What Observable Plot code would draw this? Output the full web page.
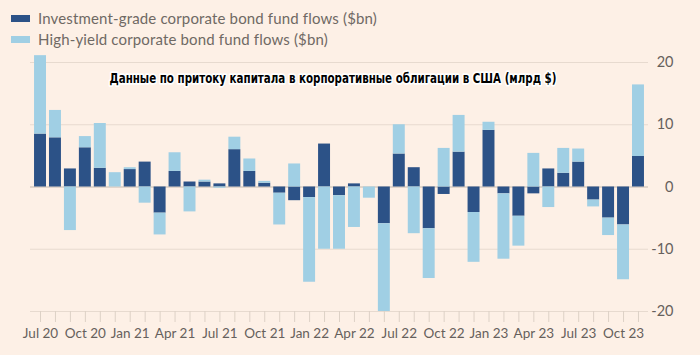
<!DOCTYPE html>
<html><head><meta charset="utf-8">
<script src="https://cdn.jsdelivr.net/npm/d3@7"></script>
<script src="https://cdn.jsdelivr.net/npm/@observablehq/plot@0.6"></script>
<style>
body{margin:0;background:#fdf0e6;font-family:Lato,sans-serif;width:700px;height:355px;overflow:hidden;}
#legend{height:48px;position:relative;}
.item{position:absolute;left:11px;display:flex;align-items:center;font-size:15px;color:#6f6964;line-height:18px;letter-spacing:0.15px;}
.sw{width:19px;height:7px;margin-right:8px;}
</style></head><body>
<div id="legend"></div><div id="chart"></div>
<script>
const months = ["Jul 20","Aug 20","Sep 20","Oct 20","Nov 20","Dec 20",
  "Jan 21","Feb 21","Mar 21","Apr 21","May 21","Jun 21","Jul 21","Aug 21","Sep 21","Oct 21","Nov 21","Dec 21",
  "Jan 22","Feb 22","Mar 22","Apr 22","May 22","Jun 22","Jul 22","Aug 22","Sep 22","Oct 22","Nov 22","Dec 22",
  "Jan 23","Feb 23","Mar 23","Apr 23","May 23","Jun 23","Jul 23","Aug 23","Sep 23","Oct 23","Nov 23"];
const investmentGrade = [8.5,7.9,2.9,6.3,3.0,0,2.8,4.0,-4.2,2.5,0.8,0.8,0.5,6.0,2.5,0.6,-1.0,-2.2,-1.7,6.9,-1.4,0.5,0,-5.9,5.3,3.1,-6.7,-1.2,5.6,-4.1,9.1,-1.1,-4.7,-1.1,2.9,2.2,4.0,-2.1,-5.0,-6.1,4.9];
const highYield = [12.6,4.4,-7.0,1.8,7.2,2.3,0.3,-2.6,-3.5,3.0,-4.0,0.3,-0.2,2.0,2.0,0.3,-5.1,3.7,-13.6,-10.0,-8.6,-6.5,-1.8,-14.1,4.7,-7.5,-8.0,6.2,5.9,-8.0,1.3,-10.5,-4.8,5.4,-3.3,4.0,2.1,-1.1,-2.8,-8.8,11.5];
const yTicks = [20,10,0,-10,-20];
const tickLabels = ["Jul 20","Oct 20","Jan 21","Apr 21","Jul 21","Oct 21","Jan 22","Apr 22","Jul 22","Oct 22","Jan 23","Apr 23","Jul 23","Oct 23"];
const seriesNames = ["Investment-grade corporate bond fund flows ($bn)","High-yield corporate bond fund flows ($bn)"];
const seriesColors = ["#2c5287","#a0cfe4"];
const title = "Данные по притоку капитала в корпоративные облигации в США (млрд $)";

const legend = document.getElementById("legend");
seriesNames.forEach((name,i)=>{
  const it = document.createElement("div");
  it.className="item"; it.style.top = (i===0 ? 9 : 30)+"px";
  it.innerHTML = `<span class="sw" style="background:${seriesColors[i]}"></span><span>${name.replace("$","&#36;")}</span>`;
  legend.appendChild(it);
});

const rows = months.flatMap((m,i)=>[
  {month:m, series:seriesNames[0], value:investmentGrade[i]},
  {month:m, series:seriesNames[1], value:highYield[i]}
]);
const shown = new Set(tickLabels);

const chart = Plot.plot({
  width:700, height:307,
  marginLeft:30, marginRight:52, marginTop:14, marginBottom:44,
  style:{background:"transparent", fontFamily:"Lato, sans-serif", fontSize:"13px", color:"#66605c", overflow:"visible"},
  x:{domain:months, paddingInner:0.2, paddingOuter:0.27, label:null},
  y:{domain:[-20,20], label:null},
  color:{domain:seriesNames, range:seriesColors},
  marks:[
    Plot.ruleY(yTicks, {stroke:"#e7dacf", strokeWidth:1}),
    Plot.ruleY([0], {stroke:"#cfc4ba", strokeWidth:1}),
    Plot.barY(rows, {x:"month", y:"value", fill:"series"}),
    Plot.axisX({tickSize:11, tickPadding:6, stroke:"#ddd1c6", color:"#66605c", fontSize:13.5,
      tickFormat: d => shown.has(d) ? d : ""}),
    Plot.axisY({ticks:[], label:null}),
    Plot.text(yTicks, {y:d=>d, text:d=>String(d).replace("\u2212","-"), frameAnchor:"right", dx:25, textAnchor:"end", fontSize:14.5, fill:"#66605c"}),
    Plot.text([title], {text:d=>d, frameAnchor:"top", dy:11, dx:-6.5, fontWeight:"bold", fontSize:14,
      fill:"#000", stroke:"white", strokeWidth:3.5, paintOrder:"stroke",
      fontFamily:"'Liberation Sans Narrow', 'DejaVu Sans Condensed', 'Roboto', sans-serif"})
  ]
});
document.getElementById("chart").appendChild(chart);
chart.querySelectorAll("text").forEach(t=>{
  if (t.textContent === title) {
    t.setAttribute("textLength","447");
    t.setAttribute("lengthAdjust","spacingAndGlyphs");
  }
});
</script>
</body></html>
